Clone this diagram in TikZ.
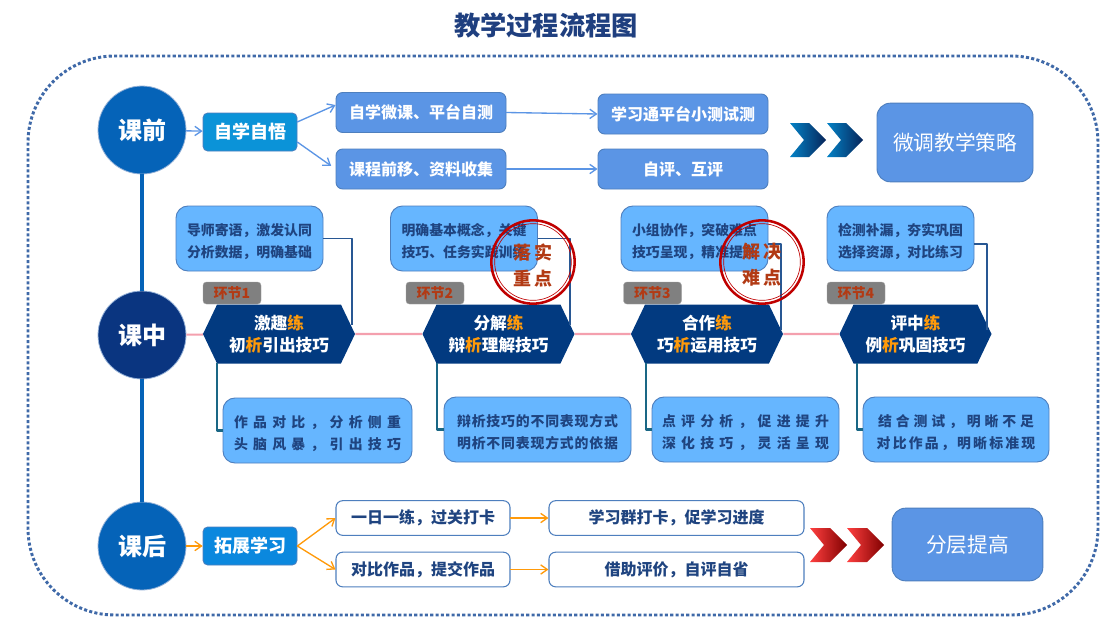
\documentclass[tikz,border=0pt]{standalone}
\usepackage{fontspec}
\setmainfont{Noto Sans CJK SC}
\usetikzlibrary{arrows.meta,shapes.symbols}
\definecolor{titleblue}{HTML}{1F3F7F}
\definecolor{framecol}{HTML}{3F69A8}
\definecolor{stagea}{HTML}{0563B8}
\definecolor{stageb}{HTML}{0A3580}
\definecolor{midblue}{HTML}{5B95E5}
\definecolor{skyblue}{HTML}{66B6FF}
\definecolor{edgeblue}{HTML}{4E7FBE}
\definecolor{inkblue}{HTML}{1F4480}
\definecolor{hexblue}{HTML}{023A80}
\definecolor{accent}{HTML}{FF9A0A}
\definecolor{tagred}{HTML}{B23A14}
\definecolor{stampred}{HTML}{C00000}
\definecolor{selfblue}{HTML}{0B93D8}
\definecolor{extendblue}{HTML}{0B88DE}
\definecolor{pinkline}{HTML}{F4A0AE}
\definecolor{tealline}{HTML}{1A6785}
\newcommand{\lsp}[2]{{\addfontfeature{LetterSpace=#1}#2}}
\newcommand{\hl}[1]{\textcolor{accent}{#1}}
\newcommand{\tp}{\rule{0pt}{13.5pt}}
\tikzset{
	stagecirc/.style={circle,draw=edgeblue!60,line width=.6pt,minimum size=66pt,inner sep=0pt,text=white,font=\fontsize{18}{22}\selectfont\bfseries},
	subbox/.style={draw=edgeblue,line width=.6pt,rounded corners=3.5pt,minimum width=70.5pt,minimum height=28.5pt,inner sep=0pt,text=white,font=\fontsize{13.5}{16}\selectfont\bfseries},
	midbox/.style={draw=edgeblue,fill=midblue,line width=.7pt,rounded corners=5pt,minimum width=127.5pt,minimum height=30pt,inner sep=0pt,text=white,font=\fontsize{12}{16}\selectfont\bfseries},
	bigbox/.style={draw=edgeblue,fill=midblue,line width=.7pt,rounded corners=10pt,inner sep=0pt,text=white,font=\fontsize{15.5}{20}\selectfont},
	linebox/.style={draw=edgeblue,fill=white,line width=.8pt,rounded corners=5pt,minimum height=26pt,inner sep=0pt,text=inkblue,font=\fontsize{12}{16}\selectfont\bfseries},
	notebox/.style={draw=edgeblue,fill=skyblue,line width=.7pt,rounded corners=9pt,inner sep=0pt,align=center,text=inkblue,font=\fontsize{10.4}{16.5}\selectfont\bfseries},
	tagbox/.style={fill=black!50,draw=black!35,line width=.3pt,rounded corners=2.5pt,minimum width=43.5pt,minimum height=16.5pt,inner sep=0pt,text=tagred,font=\fontsize{10.5}{12}\selectfont\bfseries},
	hexbox/.style={signal,signal to=east and west,signal pointer angle=129,fill=hexblue,minimum width=114pt,minimum height=44.25pt,inner sep=0pt,align=center,text=white,font=\fontsize{12.5}{16.5}\selectfont\bfseries},
	stampring/.style={circle,draw=stampred,line width=1.9pt,minimum size=62.5pt,inner sep=0pt},
	stampinner/.style={circle,draw=stampred,line width=.5pt,minimum size=57.5pt,inner sep=0pt},
	stamptext/.style={inner sep=0pt,align=center,text=tagred,font=\fontsize{13.5}{19.5}\selectfont\bfseries},
	blueflow/.style={draw=midblue,line width=1pt,-{Straight Barb[length=5pt,width=7pt]}},
	orangeflow/.style={draw=accent,line width=1pt,-{Straight Barb[length=5pt,width=7pt]}}
}
\begin{document}
\begin{tikzpicture}[x=.75pt,y=-.75pt,line cap=round,line join=round]
	\useasboundingbox[fill=white] (0,0) rectangle (1118,636);
	\node[inner sep=0pt,text=titleblue,font=\fontsize{19.7}{24}\selectfont\bfseries] (title) at (546,25) {教学过程流程图};
	\draw[framecol,line width=2.2pt,line cap=butt,dash pattern=on 2.3pt off 1.7pt,rounded corners=65pt] (28,56) rectangle (1098,615);

	% three stages
	\node[stagecirc,fill=stagea] (before) at (142,130) {课前};
	\node[stagecirc,fill=stageb] (during) at (142,335) {课中};
	\node[stagecirc,fill=stagea] (after) at (142,546) {课后};
	\draw[stagea,line width=2.4pt,line cap=butt] (before) -- (during) (during) -- (after);

	% before class
	\node[subbox,fill=selfblue] (self) at (250,132) {自学自悟};
	\foreach \n/\x/\y/\t in {micro/421/112.5/自学微课、平台自测, move/421/169/课程前移、资料收集, quiz/683/114/学习通平台小测试测, peer/683/169/自评、互评}{
		\node[midbox] (\n) at (\x,\y) {\t};
	}
	\node[bigbox,minimum width=117pt,minimum height=59pt] (tune) at (955,142.5) {微调教学策略};
	\draw[blueflow] (before) -- (self);
	\draw[blueflow] (self.12) -- (micro.175);
	\draw[blueflow,shorten >=4pt] (self.-12) -- (move.west);
	\draw[blueflow] (micro.east) -- (quiz.west);
	\draw[blueflow] (move.east) -- (peer.west);

	% during class
	\foreach \n/\x/\t in {a/249.5/{\tp 导师寄语，激发认同\\分析数据，明确基础}, b/464/{\tp 明确基本概念，关键\\技巧、任务实践训练}, c/694.5/{\tp 小组协作，突破难点\\技巧呈现，精准提升}, d/900.5/{\tp 检测补漏，夯实巩固\\选择资源，对比练习}}{
		\node[notebox,minimum width=110.25pt,minimum height=48.75pt] (top\n) at (\x,238.5) {\t};
	}
	\foreach \n/\x/\t in {a/232/环节1, b/435/环节2, c/652.5/环节3, d/856/环节4}{
		\node[tagbox] (tag\n) at (\x,293) {\t};
	}
	\foreach \n/\x/\t in {a/279/{激趣\hl{练}\\初\hl{析}引出技巧}, b/498.5/{分解\hl{练}\\辩\hl{析}理解技巧}, c/707/{合作\hl{练}\\巧\hl{析}运用技巧}, d/915.5/{评中\hl{练}\\例\hl{析}巩固技巧}}{
		\node[hexbox] (hex\n) at (\x,334) {\t};
	}
	\foreach \n/\x/\y/\w/\t in {a/317.5/430.5/189/{\tp\lsp{38}{作品对比，分析侧重}\\\lsp{38}{头脑风暴，引出技巧}}, b/537.5/429.5/187/{\tp\lsp{6}{辩析技巧的不同表现方式}\\\lsp{6}{明析不同表现方式的依据}}, c/745.5/429.5/187/{\tp\lsp{38}{点评分析，促进提升}\\\lsp{38}{深化技巧，灵活呈现}}, d/956/429.5/186/{\tp\lsp{28}{结合测试，明晰不足}\\\lsp{16}{对比作品，明晰标准现}}}{
		\node[notebox,minimum width=\w*.75pt,minimum height=48.75pt] (low\n) at (\x,\y) {\t};
	}
	\draw[draw=pinkline,line width=1.6pt,line cap=butt] (during) -- (hexa) (hexa) -- (hexb) (hexb) -- (hexc) (hexc) -- (hexd);
	\path (352,325) coordinate (upa) (570,325) coordinate (upb) (781,330) coordinate (upc) (987,330) coordinate (upd)
		(217,363) coordinate (dna) (437,363) coordinate (dnb) (646,363) coordinate (dnc) (857,363) coordinate (dnd);
	\foreach \n/\s in {a/0, b/0, c/5.5, d/5.5}{
		\draw[hexblue!85!white,line width=1.2pt,line cap=butt] (top\n.east) ++(0,\s) -| (up\n);
	}
	\foreach \n in {a,b,c,d}{
		\draw[tealline,line width=1.6pt,line cap=butt] (dn\n) |- (low\n.west);
	}

	% seals
	\foreach \n/\x/\t in {keyp/533/{\lsp{14}{落实}\\\lsp{14}{重点}}, hardp/762/{\lsp{14}{解决}\\\lsp{14}{难点}}}{
		\node[stampring] (\n) at (\x,262) {};
		\node[stampinner] (\n in) at (\x,262) {};
		\node[stamptext] (\n text) at (\x,265) {\t};
	}

	% after class
	\node[subbox,fill=extendblue] (extend) at (250,546) {拓展学习};
	\foreach \n/\x/\y/\w/\t in {daily/423/518/174/一日一练，过关打卡, works/423/569.5/174/对比作品，提交作品, group/676.5/518/255/学习群打卡，促学习进度, review/676.5/569.5/255/借助评价，自评自省}{
		\node[linebox,minimum width=\w*.75pt] (\n) at (\x,\y) {\t};
	}
	\node[bigbox,minimum width=113pt,minimum height=54.5pt] (level) at (967.5,544.5) {分层提高};
	\draw[orangeflow] (after) -- (extend);
	\draw[orangeflow] (extend.east) -- (daily.west);
	\draw[orangeflow] (extend.east) -- (works.west);
	\draw[orangeflow] (daily.east) -- (group.west);
	\draw[orangeflow] (works.east) -- (review.west);

	% chevrons
	\foreach \x in {790,827}{
		\shade[left color=stagea!80!cyan,right color=stageb!70!black,shading angle=90] (\x,123) -- ++(19,0) -- ++(17,17) -- ++(-17,17) -- ++(-19,0) -- ++(14,-17) -- cycle;
	}
	\foreach \x in {810,847}{
		\shade[left color=red!75!white,right color=red!50!black,shading angle=90] (\x,528) -- ++(20,0) -- ++(17,17) -- ++(-17,17) -- ++(-20,0) -- ++(14,-17) -- cycle;
	}
\end{tikzpicture}
\end{document}
